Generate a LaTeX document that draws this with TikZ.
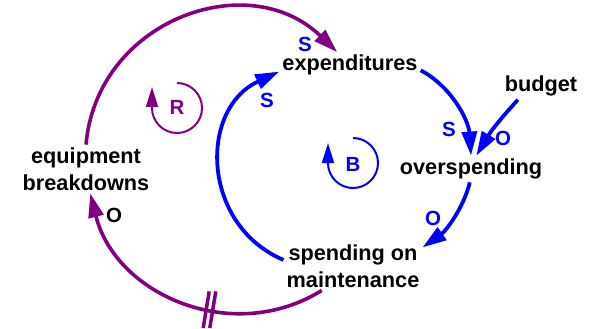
\documentclass[tikz,border=0pt]{standalone}
\usepackage{fontspec}
\setmainfont{Liberation Sans}
\usetikzlibrary{positioning, arrows.meta}

\begin{document}
\begin{tikzpicture}[
    x=1pt, y=1pt,
    font=\fontsize{21.7}{26.5}\selectfont\bfseries,
    >={Triangle[length=24pt, width=15pt]},
    % --- Styles ---
    var/.style={inner sep=3pt, align=center, text=black},
    polarity/.style={font=\fontsize{20.5}{24}\selectfont\bfseries, inner sep=0pt},
    link_blue/.style={->, line width=3.8pt, color=cldBlue},
    link_purple/.style={->, line width=3.6pt, color=cldPurple},
    loop_mark/.style={-{Triangle[length=20pt, width=12pt]}, line width=2pt},
    delay_mark/.style={line width=3.5pt, color=cldPurple}
]

    % --- Colors ---
    \definecolor{cldBlue}{RGB}{0,0,255}     % balancing loop blue
    \definecolor{cldPurple}{RGB}{128,0,128} % reinforcing loop purple

    \useasboundingbox (0,0) rectangle (595,-329);

    % ==========================
    % 1. VARIABLES
    % ==========================
    \node[var, anchor=base] (expend) at (350,-71) {expenditures};
    \node[var, anchor=base] (budget) at (541,-92) {budget};
    \node[var, anchor=base] (oversp) at (471,-174.5) {overspending};
    \node[var] (equip) at (86,-169) {equipment\\breakdowns};
    \node[var] (maint) at (353,-266) {spending on\\maintenance};

    % ==========================
    % 2. REINFORCING LOOP (purple)
    % ==========================
    \draw[link_purple] (equip.north) to[out=85, in=136, looseness=1.19] (expend.134);
    \draw[link_purple] (maint.218) to[out=212, in=-76, looseness=1.07] (equip.-80);

    % Delay marks
    \coordinate (delay) at (209.5,-309.7);
    \foreach \dx in {-3.3, 3.3} {
        \draw[delay_mark] ([xshift=\dx pt]delay) ++(-3,-18.3) -- ++(6,36.6);
    }

    % ==========================
    % 3. BALANCING LOOP (blue)
    % ==========================
    \draw[link_blue] (maint.175) to[out=157, in=205, looseness=1.21] (expend.185);
    \draw[link_blue] (expend.-4) to[out=-28, in=94, looseness=0.91] (oversp.north);
    \draw[link_blue] (oversp.-95) to[out=256, in=35, looseness=0.88] (maint.15);
    \draw[link_blue] (budget.210) to[bend right=6] (oversp.68);

    % ==========================
    % 4. POLARITIES
    % ==========================
    \node[polarity, text=cldBlue] (pol_eq_ex) at (305,-44.5) {S};
    \node[polarity, text=cldBlue] (pol_ma_ex) at (267,-100) {S};
    \node[polarity, text=cldBlue] (pol_ex_ov) at (449,-129) {S};
    \node[polarity, text=cldBlue] (pol_bu_ov) at (503,-138) {O};
    \node[polarity, text=cldBlue] (pol_ov_ma) at (433,-218) {O};
    \node[polarity] (pol_ma_eq) at (114,-215) {O};

    % ==========================
    % 5. LOOP MARKERS
    % ==========================
    \draw[loop_mark, cldPurple] (177,-83) arc[start angle=90, end angle=-180, radius=25] -- ++(0,21);
    \node[polarity, text=cldPurple] (loop_r) at (177,-107.5) {R};

    \draw[loop_mark, cldBlue] (353,-138) arc[start angle=90, end angle=-180, radius=25] -- ++(0,20);
    \node[polarity, text=cldBlue] (loop_b) at (353,-164) {B};

\end{tikzpicture}
\end{document}
